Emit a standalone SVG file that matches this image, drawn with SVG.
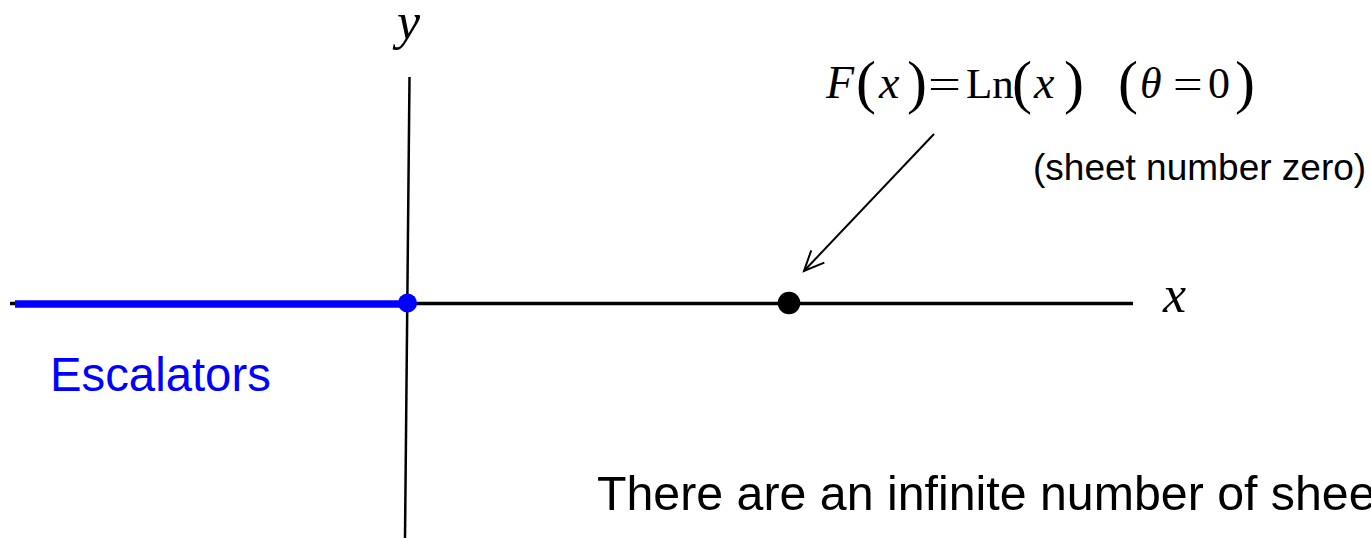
<svg xmlns="http://www.w3.org/2000/svg" width="1371" height="538" viewBox="0 0 1371 538">
<style>
.ax{stroke:#000;stroke-width:3.5;fill:none}
.m{font-family:"Liberation Serif","Times New Roman",serif;fill:#000}
.it{font-style:italic}
.v{font-size:46px}
.p{font-size:60px}
.s{font-family:"Liberation Sans",Arial,sans-serif}
</style>
<defs>
<marker id="ah" markerWidth="12" markerHeight="12" refX="10" refY="6" orient="auto" markerUnits="userSpaceOnUse" overflow="visible">
<path d="M-10,-3 L10,6 L-10,15" fill="none" stroke="#000" stroke-width="2"/>
</marker>
</defs>
<rect width="1371" height="538" fill="#fff"/>
<g id="connectors">
<line class="ax" x1="10" y1="303.5" x2="1133" y2="303.5"/>
<line x1="15" y1="304" x2="408" y2="304" stroke="#0000ff" stroke-width="7.5"/>
<line x1="409.5" y1="77" x2="405" y2="538" stroke="#000" stroke-width="2.5"/>
<line x1="934" y1="134" x2="804" y2="271" stroke="#000" stroke-width="2" marker-end="url(#ah)"/>
</g>
<g id="origin"><circle cx="407.5" cy="303" r="9.5" fill="#0000ff"/></g>
<g id="point"><circle cx="789" cy="303" r="11.3" fill="#000"/></g>
<g id="label-y"><text class="m it" x="397" y="39" font-size="52">y</text></g>
<g id="label-x"><text class="m it" x="1163" y="312" font-size="52">x</text></g>
<g id="formula" class="m" font-size="42">
<text class="m it v" x="826" y="98">F</text>
<text class="m p" x="856" y="102">(</text>
<text class="m it v" x="879" y="98">x</text>
<text class="m p" x="907" y="102">)</text>
<text class="m" transform="translate(928,98) scale(1.4,1)">=</text>
<text class="m" x="966" y="98" font-size="43">Ln</text>
<text class="m p" x="1012" y="102">(</text>
<text class="m it v" x="1034" y="98">x</text>
<text class="m p" x="1064" y="102">)</text>
<text class="m p" x="1118" y="102">(</text>
<text class="m it" x="1140" y="98" font-size="44">θ</text>
<text class="m" transform="translate(1173,98) scale(1.25,1)">=</text>
<text class="m" x="1208" y="98" font-size="44">0</text>
<text class="m p" x="1235" y="102">)</text>
</g>
<g id="sheet-label"><text class="s" x="1033" y="180" font-size="37" fill="#000">(sheet number zero)</text></g>
<g id="escalators"><text class="s" x="50" y="391" font-size="47.3" fill="#0000ff">Escalators</text></g>
<g id="note"><text class="s" x="597" y="510" font-size="48.3" fill="#000">There are an infinite number of sheets</text></g>
</svg>
